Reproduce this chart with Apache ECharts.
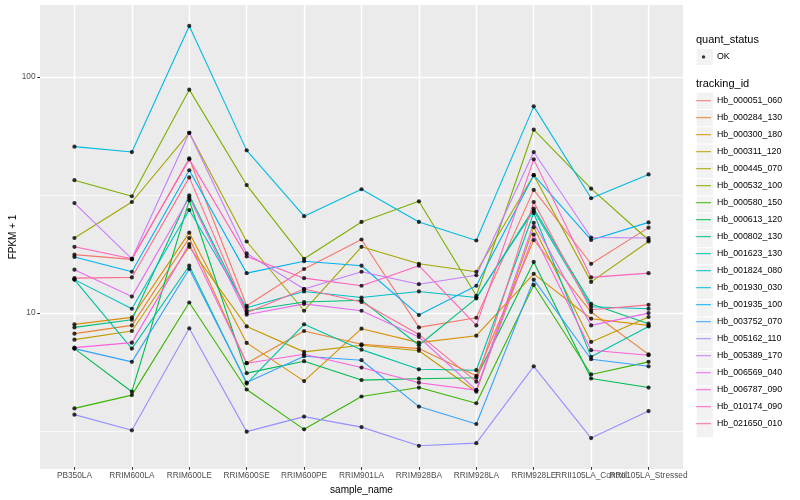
<!DOCTYPE html>
<html><head><meta charset="utf-8">
<script src="https://cdn.jsdelivr.net/npm/echarts@6/dist/echarts.min.js"></script>
<style>html,body{margin:0;padding:0;background:#fff}#c{width:800px;height:500px}</style>
</head><body><div id="c"></div>
<script>
// ---------- data ----------
const categories = ['PB350LA','RRIM600LA','RRIM600LE','RRIM600SE','RRIM600PE','RRIM901LA','RRIM928BA','RRIM928LA','RRIM928LE','RRII105LA_Control','RRII105LA_Stressed'];
const trackingIds = ['Hb_000051_060','Hb_000284_130','Hb_000300_180','Hb_000311_120','Hb_000445_070','Hb_000532_100','Hb_000580_150','Hb_000613_120','Hb_000802_130','Hb_001623_130','Hb_001824_080','Hb_001930_030','Hb_001935_100','Hb_003752_070','Hb_005162_110','Hb_005389_170','Hb_006569_040','Hb_006787_090','Hb_010174_090','Hb_021650_010'];
const quantStatus = ['OK'];
const yTickValues = [10, 100];

const Hb_000051_060 = [17.5, 16.7, 44.9, 10.6, 15.2, 20.3, 8.58, 9.43, 33.0, 16.0, 22.8];
const Hb_000284_130 = [8.07, 8.75, 20.6, 6.04, 8.28, 7.27, 6.97, 5.34, 20.2, 9.97, 6.59];
const Hb_000300_180 = [8.84, 9.46, 21.7, 7.37, 5.07, 8.47, 7.39, 7.91, 14.5, 9.34, 8.75];
const Hb_000311_120 = [7.61, 8.28, 18.9, 8.66, 6.75, 7.20, 6.82, 4.57, 22.9, 7.44, 9.50];
const Hb_000445_070 = [20.6, 29.3, 57.7, 19.9, 10.1, 18.9, 16.0, 14.8, 38.1, 13.4, 19.9];
const Hb_000532_100 = [36.3, 31.0, 88.1, 34.6, 16.8, 24.1, 29.5, 11.7, 59.5, 33.4, 20.2];
const Hb_000580_150 = [3.88, 4.42, 10.95, 4.67, 3.16, 4.36, 4.76, 4.08, 13.0, 5.41, 6.12];
const Hb_000613_120 = [6.97, 4.57, 29.8, 5.48, 6.16, 5.12, 5.19, 5.24, 16.3, 5.20, 4.76];
const Hb_000802_130 = [8.58, 9.25, 31.3, 10.1, 11.0, 11.2, 7.20, 11.4, 27.5, 10.8, 8.90];
const Hb_001623_130 = [13.7, 6.97, 15.7, 4.95, 8.84, 6.90, 5.69, 5.64, 26.3, 6.43, 8.66];
const Hb_001824_080 = [13.7, 10.3, 27.1, 10.4, 12.2, 11.5, 12.2, 11.5, 26.9, 10.5, 10.3];
const Hb_001930_030 = [50.4, 47.8, 164.5, 48.6, 25.5, 33.2, 24.1, 20.1, 74.8, 30.4, 38.4];
const Hb_001935_100 = [17.1, 14.8, 40.0, 14.6, 16.4, 15.7, 9.68, 12.9, 38.1, 20.2, 24.0];
const Hb_003752_070 = [6.97, 6.12, 15.2, 5.00, 6.47, 6.22, 3.95, 3.33, 13.7, 6.28, 5.86];
const Hb_005162_110 = [3.65, 3.13, 8.50, 3.09, 3.58, 3.23, 2.69, 2.76, 5.86, 2.90, 3.78];
const Hb_005389_170 = [29.0, 16.8, 57.7, 17.7, 12.5, 14.8, 13.1, 14.3, 47.8, 20.7, 20.6];
const Hb_006569_040 = [15.1, 11.6, 30.6, 9.71, 10.8, 10.1, 7.81, 4.64, 23.9, 8.75, 9.87];
const Hb_006787_090 = [7.04, 7.39, 19.4, 6.04, 6.59, 5.79, 4.99, 4.64, 21.3, 6.86, 6.53];
const Hb_010174_090 = [18.9, 16.8, 44.5, 17.2, 13.9, 12.9, 15.7, 8.75, 44.5, 14.0, 14.6];
const Hb_021650_010 = [13.9, 14.0, 37.3, 9.90, 12.5, 11.0, 8.01, 5.04, 29.3, 10.2, 10.7];

const seriesValues = [Hb_000051_060, Hb_000284_130, Hb_000300_180, Hb_000311_120, Hb_000445_070,
  Hb_000532_100, Hb_000580_150, Hb_000613_120, Hb_000802_130, Hb_001623_130, Hb_001824_080,
  Hb_001930_030, Hb_001935_100, Hb_003752_070, Hb_005162_110, Hb_005389_170, Hb_006569_040,
  Hb_006787_090, Hb_010174_090, Hb_021650_010];

// ---------- style / layout ----------
const colors = ['#F8766D','#EA8331','#D89000','#C09B00','#A3A500','#7CAE00','#39B600','#00BB4E','#00BF7D','#00C1A3','#00BFC4','#00BAE0','#00B0F6','#35A2FF','#9590FF','#C77CFF','#E76BF3','#FA62DB','#FF62BC','#FF6C91'];
const W = 800, H = 500;
const P = {left: 40, right: 117, top: 5, bottom: 31};
const panelH = H - P.top - P.bottom;
const yMin = 2.183, yMax = 201.9;
const L = Math.log10;
const pix = v => P.top + (L(yMax) - L(v)) / (L(yMax) - L(yMin)) * panelH;
const expand = 0.6;
const unit = (W - P.left - P.right) / (categories.length - 1 + 2 * expand);
const inset = expand * unit;
const font = "'Liberation Sans', Arial, sans-serif";

const hiddenX = gi => ({gridIndex: gi, type: 'value', min: 0, max: 1, show: false});

const grids = [
  {left: P.left, right: P.right, top: P.top, bottom: P.bottom, show: true, backgroundColor: '#EBEBEB', borderWidth: 0},
  {left: P.left, right: P.right, top: pix(10 * Math.sqrt(10)), bottom: H - pix(Math.sqrt(10))},
  {left: P.left, right: P.right, top: pix(yTickValues[1]), bottom: H - pix(yTickValues[0])},
  {left: P.left + inset, right: P.right + inset, top: P.top, bottom: P.bottom}
];

const lineSeries = trackingIds.map((id, k) => ({
  name: id, type: 'line', xAxisIndex: 3, yAxisIndex: 3,
  data: seriesValues[k].map((v, i) => [i, v]),
  symbol: 'none', showSymbol: false, color: colors[k],
  lineStyle: {width: 1.1, color: colors[k]},
  emphasis: {disabled: true}, silent: true, z: 2
}));
const pointData = [];
seriesValues.forEach(arr => arr.forEach((v, i) => pointData.push([i, v])));
const pointSeries = {
  name: quantStatus[0], type: 'scatter', xAxisIndex: 3, yAxisIndex: 3,
  data: pointData, symbol: 'circle', symbolSize: 4.2,
  itemStyle: {color: '#000'}, emphasis: {disabled: true}, silent: true, z: 3
};

const legTop = 92.2, legStep = 17.28;
const keyBoxes = [{type: 'rect', silent: true, z: 0, shape: {x: 696.7, y: 48.9, width: 16.2, height: 16.2}, style: {fill: '#F2F2F2'}}];
trackingIds.forEach((id, i) => keyBoxes.push({type: 'rect', silent: true, z: 0,
  shape: {x: 696.7, y: legTop + i * legStep + 0.55, width: 16.2, height: 16.2}, style: {fill: '#F2F2F2'}}));

const option = {
  animation: false,
  backgroundColor: '#ffffff',
  grid: grids,
  title: [
    {text: 'quant_status', left: 696, top: 34.5, padding: 0, textStyle: {fontSize: 11, fontWeight: 'normal', color: '#000', fontFamily: font}},
    {text: 'tracking_id', left: 696, top: 78, padding: 0, textStyle: {fontSize: 11, fontWeight: 'normal', color: '#000', fontFamily: font}}
  ],
  legend: [
    {data: quantStatus, orient: 'vertical', left: 695, top: 48.4, padding: 0, itemWidth: 17, itemHeight: 17.28, itemGap: 0,
     selectedMode: false, icon: 'path://M0,0L0,0M17,17L17,17M10.2,8.5A1.7,1.7,0,1,1,6.8,8.5A1.7,1.7,0,1,1,10.2,8.5Z',
     itemStyle: {borderWidth: 0}, textStyle: {fontSize: 8.8, color: '#000', fontFamily: font}, z: 10},
    {data: trackingIds, orient: 'vertical', left: 695, top: legTop, padding: 0, itemWidth: 17, itemHeight: legStep, itemGap: 0,
     selectedMode: false, icon: 'path://M0,0L0,0M17,17L17,17M1.2,8H16V9H1.2Z',
     itemStyle: {borderWidth: 0}, textStyle: {fontSize: 8.8, color: '#000', fontFamily: font}, z: 10}
  ],
  graphic: keyBoxes,
  xAxis: [
    hiddenX(0), hiddenX(1), hiddenX(2),
    {gridIndex: 3, type: 'category', data: categories, boundaryGap: false,
     axisLine: {show: false},
     axisTick: {show: true, interval: 0, length: 2.75, lineStyle: {color: '#333333', width: 1}},
     axisLabel: {interval: 0, color: '#4D4D4D', fontSize: 8.3, fontFamily: font, margin: 5, hideOverlap: false},
     splitLine: {show: true, interval: 0, lineStyle: {color: '#FFFFFF', width: 1.4}},
     name: 'sample_name', nameLocation: 'middle', nameGap: 16,
     nameTextStyle: {fontSize: 10, color: '#000', fontFamily: font}}
  ],
  yAxis: [
    {gridIndex: 0, type: 'value', min: 0, max: 1, axisLine: {show: false}, axisTick: {show: false}, axisLabel: {show: false}, splitLine: {show: false},
     name: 'FPKM + 1', nameLocation: 'middle', nameGap: 22, nameRotate: 90,
     nameTextStyle: {fontSize: 10, color: '#000', fontFamily: font}},
    {gridIndex: 1, type: 'log', logBase: 10, min: Math.sqrt(10), max: 10 * Math.sqrt(10),
     axisLine: {show: false}, axisTick: {show: false}, axisLabel: {show: false},
     splitLine: {show: true, lineStyle: {color: '#FFFFFF', width: 0.7}}},
    {gridIndex: 2, type: 'log', logBase: 10, min: yTickValues[0], max: yTickValues[1],
     axisLine: {show: false},
     axisTick: {show: true, length: 2.75, lineStyle: {color: '#333333', width: 1}},
     axisLabel: {color: '#4D4D4D', fontSize: 8.3, fontFamily: font, margin: 4.5, formatter: v => String(Math.round(v))},
     splitLine: {show: true, lineStyle: {color: '#FFFFFF', width: 1.4}}},
    {gridIndex: 3, type: 'log', logBase: 10, min: yMin, max: yMax, show: false}
  ],
  series: [...lineSeries, pointSeries]
};
const chart = echarts.init(document.getElementById('c'), null, {renderer: 'canvas', width: W, height: H});
chart.setOption(option);
</script></body></html>
